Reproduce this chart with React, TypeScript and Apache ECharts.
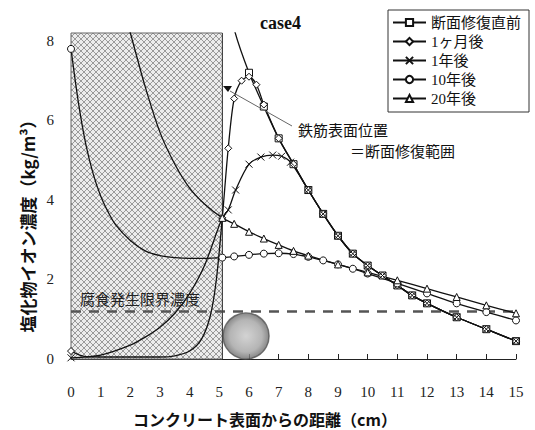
import React, { useEffect, useRef } from "react";
import * as echarts from "echarts";

// ---- data (distance from concrete surface in cm, chloride concentration kg/m3) ----
const seriesNames = ["断面修復直前", "1ヶ月後", "1年後", "10年後", "20年後"];
const xTickLabels = ["0","1","2","3","4","5","6","7","8","9","10","11","12","13","14","15"];
const yTickLabels = ["0", "2", "4", "6", "8"];

const repairDepth = 5.1;
const criticalConc = 1.2;
const rebarPos = [5.9, 0.58];

const beforeX = [5.1, 5.5, 6.0, 6.5, 7.0, 7.5, 8.0, 8.5, 9.0, 9.5, 10.0, 10.5, 11.0, 11.5, 12.0, 13.0, 14.0, 15.0];
const beforeY = [9.8, 8.3, 7.2, 6.35, 5.55, 4.9, 4.25, 3.65, 3.1, 2.65, 2.35, 2.1, 1.85, 1.6, 1.4, 1.05, 0.75, 0.45];

const month1X = [0, 0.5, 1, 2, 3, 3.5, 4, 4.4, 4.7, 4.9, 5.1, 5.3, 5.5, 5.75, 6.0, 6.25, 6.5, 7.0, 7.5, 8.0, 8.5, 9.0, 9.5, 10.0, 10.5, 11.0, 11.5, 12.0, 13.0, 14.0, 15.0];
const month1Y = [0.2, 0.06, 0.05, 0.05, 0.05, 0.08, 0.2, 0.5, 1.1, 2.0, 3.55, 5.3, 6.55, 7.0, 7.1, 6.9, 6.4, 5.55, 4.9, 4.25, 3.65, 3.1, 2.65, 2.35, 2.1, 1.85, 1.6, 1.4, 1.05, 0.75, 0.45];

const year1X = [0, 1, 2, 2.5, 3, 3.5, 4, 4.5, 5.1, 5.3, 5.55, 6.0, 6.4, 6.8, 7.1, 7.4, 8.0, 8.5, 9.0, 9.5, 10.0, 10.5, 11.0, 11.5, 12.0, 13.0, 14.0, 15.0];
const year1Y = [0.03, 0.1, 0.35, 0.55, 0.8, 1.15, 1.65, 2.35, 3.55, 3.75, 4.25, 4.9, 5.08, 5.13, 5.1, 4.95, 4.25, 3.65, 3.1, 2.65, 2.35, 2.1, 1.85, 1.6, 1.4, 1.05, 0.75, 0.45];

const year10X = [0, 0.25, 0.5, 0.75, 1, 1.25, 1.5, 2, 2.5, 3, 3.5, 4, 4.5, 5.1, 5.5, 6.0, 6.5, 7.0, 7.5, 8.0, 8.5, 9.0, 9.5, 10.0, 11.0, 12.0, 13.0, 14.0, 15.0];
const year10Y = [7.8, 6.45, 5.4, 4.65, 4.1, 3.7, 3.38, 2.98, 2.72, 2.6, 2.55, 2.53, 2.53, 2.55, 2.58, 2.62, 2.65, 2.66, 2.64, 2.57, 2.48, 2.38, 2.27, 2.15, 1.9, 1.65, 1.4, 1.18, 0.97];

const year20X = [0, 1, 1.5, 2, 2.5, 3, 3.5, 4, 4.5, 5.1, 5.5, 6.0, 6.5, 7.0, 7.5, 8.0, 9.0, 10.0, 11.0, 12.0, 13.0, 14.0, 15.0];
const year20Y = [16, 11.2, 9.5, 8.2, 6.85, 5.7, 4.9, 4.3, 3.9, 3.55, 3.4, 3.2, 3.03, 2.87, 2.72, 2.6, 2.38, 2.18, 1.98, 1.77, 1.56, 1.35, 1.15];

const CJK = "'Liberation Serif', 'Noto Sans CJK JP', serif";
const CJK_SANS = "'Noto Sans CJK JP', sans-serif";

function buildSeries(name: string, xs: number[], ys: number[], symbol: string) {
  return {
    name,
    type: "line",
    smooth: 0.3,
    symbol,
    symbolSize: 7,
    z: 5,
    clip: true,
    lineStyle: { color: "#111", width: 1.3 },
    itemStyle: { color: "#fff", borderColor: "#111", borderWidth: 1 },
    emphasis: { disabled: true },
    data: xs.map((x, i) => ({
      value: [x, ys[i]],
      symbol: x >= repairDepth || x === 0 ? symbol : "none",
    })),
  };
}

export default function App() {
  const ref = useRef<HTMLDivElement>(null);
  useEffect(() => {
    if (!ref.current) return;
    const chart = echarts.init(ref.current, undefined, { renderer: "svg" });

    const c = document.createElement("canvas");
    c.width = 6;
    c.height = 6;
    const g = c.getContext("2d");
    if (g) {
      g.fillStyle = "#ececec";
      g.fillRect(0, 0, 6, 6);
      g.fillStyle = "#9a9a9a";
      for (let i = 0; i < 6; i++) {
        g.fillRect(i, i, 1, 1);
        g.fillRect(5 - i, i, 1, 1);
      }
    }
    const pattern: any = { image: c, repeat: "repeat", imageWidth: 6, imageHeight: 6 };

    const xSym = "path://M0,0L10,10M10,0L0,10";

    chart.setOption({
      animation: false,
      grid: { left: 71, right: 19, top: 33, bottom: 71 },
      xAxis: {
        type: "value",
        min: 0,
        max: 15,
        interval: 1,
        axisLine: { show: true, lineStyle: { color: "#222", width: 1 } },
        axisTick: { show: true, inside: true, length: 5, lineStyle: { color: "#222" } },
        splitLine: { show: false },
        axisLabel: {
          margin: 25,
          color: "#222",
          fontFamily: "'Liberation Serif', serif",
          fontSize: 15,
          formatter: (v: number) => xTickLabels[Math.round(v)] ?? "",
        },
      },
      yAxis: {
        type: "value",
        min: 0,
        max: 8.2,
        interval: 2,
        axisLine: { show: false },
        axisTick: { show: false },
        splitLine: { show: false },
        axisLabel: {
          margin: 17,
          color: "#222",
          fontFamily: "'Liberation Serif', serif",
          fontSize: 15,
          formatter: (v: number) => (v % 2 === 0 ? yTickLabels[v / 2] ?? "" : ""),
        },
      },
      legend: {
        data: seriesNames,
        orient: "vertical",
        left: 388,
        top: 10,
        padding: [5, 8, 6, 4],
        itemGap: 4,
        itemWidth: 33,
        itemHeight: 9,
        borderColor: "#333",
        borderWidth: 1,
        backgroundColor: "#fff",
        textStyle: { fontFamily: CJK, fontSize: 15, color: "#111" },
      },
      series: [
        {
          name: "_bg",
          type: "line",
          data: [],
          z: 1,
          markArea: {
            silent: true,
            itemStyle: { color: pattern, borderColor: "#666", borderWidth: 1 },
            data: [[{ xAxis: 0, yAxis: 0 }, { xAxis: repairDepth, yAxis: 8.2 }]],
          },
          markLine: {
            silent: true,
            symbol: ["none", "none"],
            label: { show: false },
            data: [
              [
                { coord: [0, criticalConc], lineStyle: { color: "#555", width: 2.5, type: [10, 8] } },
                { coord: [15, criticalConc] },
              ],
              [
                { coord: [repairDepth, 0], lineStyle: { color: "#444", width: 1, type: "solid" } },
                { coord: [repairDepth, 8.2] },
              ],
            ],
          },
        },
        {
          name: "_rebar",
          type: "scatter",
          z: 2,
          silent: true,
          symbolSize: 46,
          itemStyle: {
            color: {
              type: "radial",
              x: 0.5,
              y: 0.5,
              r: 0.5,
              colorStops: [
                { offset: 0, color: "#c8c8c8" },
                { offset: 0.7, color: "#a2a2a2" },
                { offset: 1, color: "#6a6a6a" },
              ],
            },
            borderColor: "#555",
            borderWidth: 1.5,
          },
          data: [rebarPos],
        },
        buildSeries(seriesNames[0], beforeX, beforeY, "rect"),
        buildSeries(seriesNames[1], month1X, month1Y, "diamond"),
        buildSeries(seriesNames[2], year1X, year1Y, xSym),
        buildSeries(seriesNames[3], year10X, year10Y, "circle"),
        buildSeries(seriesNames[4], year20X, year20Y, "triangle"),
      ],
      graphic: [
        {
          type: "text",
          left: 260,
          top: 14,
          style: { text: "case4", font: "bold 18px 'Liberation Serif', serif", fill: "#111" },
        },
        {
          type: "text",
          x: 298,
          y: 129,
          style: { text: "鉄筋表面位置", font: `15px ${CJK_SANS}`, fill: "#111", textVerticalAlign: "middle" },
        },
        {
          type: "text",
          x: 350,
          y: 150,
          style: { text: "＝断面修復範囲", font: `15px ${CJK_SANS}`, fill: "#111", textVerticalAlign: "middle" },
        },
        {
          type: "text",
          x: 80,
          y: 298,
          z: 10,
          style: { text: "腐食発生限界濃度", font: `15px ${CJK_SANS}`, fill: "#222", textVerticalAlign: "middle" },
        },
        {
          type: "line",
          z: 10,
          shape: { x1: 230, y1: 91, x2: 292, y2: 126 },
          style: { stroke: "#666", lineWidth: 1 },
        },
        {
          type: "polygon",
          z: 10,
          shape: { points: [[223, 86], [232, 86], [228, 92]] },
          style: { fill: "#111" },
        },
        {
          type: "text",
          x: 265,
          y: 419,
          style: {
            text: "コンクリート表面からの距離（cm）",
            font: `bold 16px ${CJK_SANS}`,
            fill: "#111",
            textAlign: "center",
            textVerticalAlign: "middle",
          },
        },
        {
          type: "text",
          x: 27,
          y: 222,
          rotation: Math.PI / 2,
          style: {
            text: "塩化物イオン濃度（kg/m³）",
            font: `bold 17px ${CJK_SANS}`,
            fill: "#111",
            textAlign: "center",
            textVerticalAlign: "middle",
          },
        },
      ],
    });
    return () => chart.dispose();
  }, []);
  return (
    <div
      ref={ref}
      style={{ position: "absolute", left: 0, top: 0, width: 535, height: 430, background: "#fff" }}
    />
  );
}
